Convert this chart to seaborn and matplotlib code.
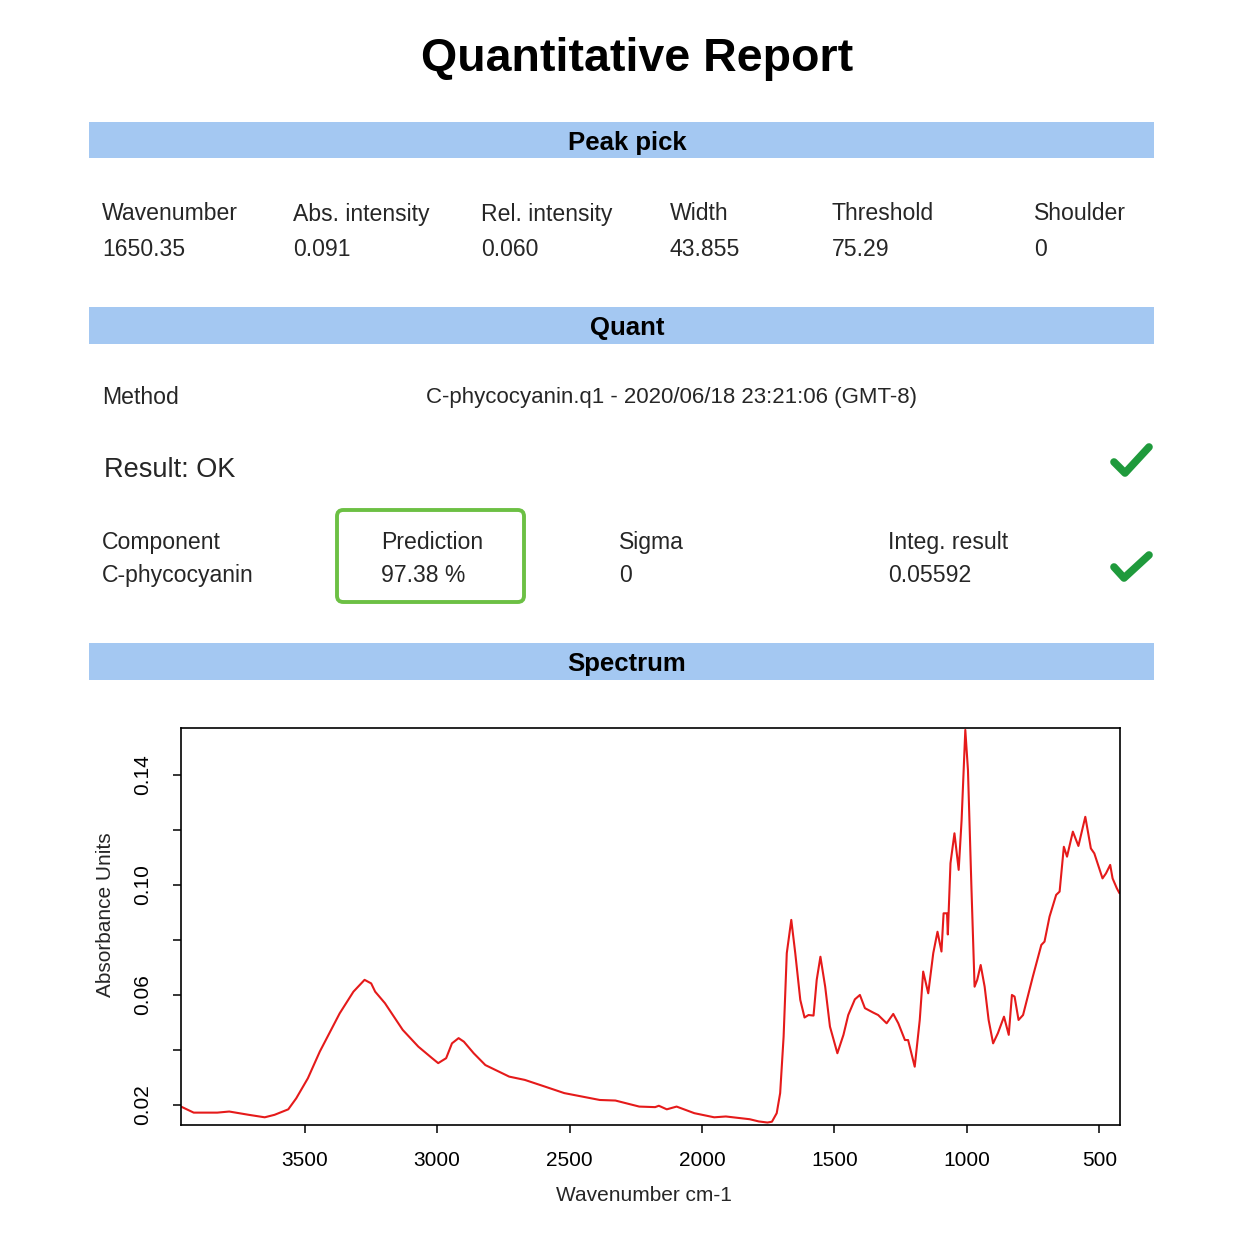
import matplotlib
matplotlib.use("Agg")
import matplotlib.pyplot as plt
from matplotlib.patches import Rectangle, FancyBboxPatch
from matplotlib.lines import Line2D
import seaborn as sns
import pandas as pd

# ---- report values ----
peak_labels = ["Wavenumber", "Abs. intensity", "Rel. intensity", "Width", "Threshold", "Shoulder"]
peak_values = ["1650.35", "0.091", "0.060", "43.855", "75.29", "0"]

method_name = "C-phycocyanin.q1 - 2020/06/18 23:21:06 (GMT-8)"
result_text = "Result: OK"

quant_labels = ["Component", "Prediction", "Sigma", "Integ. result"]
quant_values = ["C-phycocyanin", "97.38 %", "0", "0.05592"]

# ---- spectrum ----
wavenumber = [3967, 3919, 3830, 3785, 3711, 3651, 3614, 3562, 3532, 3488,
              3443, 3368, 3316, 3274, 3249, 3234, 3197, 3130, 3071, 3019,
              2996, 2966, 2944, 2919, 2899, 2862, 2818, 2728, 2669, 2594,
              2520, 2386, 2327, 2237, 2177, 2163, 2133, 2096, 2029, 1954,
              1910, 1820, 1786, 1753, 1736, 1718, 1705, 1692, 1680, 1663,
              1648, 1629, 1613, 1598, 1579, 1567, 1553, 1535, 1517, 1489,
              1466, 1448, 1423, 1404, 1385, 1354, 1335, 1303, 1278, 1259,
              1234, 1222, 1197, 1178, 1165, 1146, 1127, 1111, 1096, 1088,
              1075, 1072, 1062, 1047, 1031, 1020, 1006, 996, 983, 971,
              961, 948, 933, 918, 901, 883, 860, 842, 830, 820,
              805, 788, 751, 719, 707, 688, 663, 650, 634, 622,
              600, 579, 553, 532, 519, 488, 475, 459, 450, 434, 424]
absorbance = [0.0194, 0.0172, 0.0172, 0.0176, 0.0164, 0.0155, 0.0164, 0.0184, 0.0224, 0.0297,
              0.0394, 0.0533, 0.0612, 0.0655, 0.0642, 0.0612, 0.0570, 0.0473, 0.0412, 0.0370,
              0.0352, 0.0370, 0.0424, 0.0443, 0.0430, 0.0388, 0.0345, 0.0303, 0.0291, 0.0267,
              0.0243, 0.0218, 0.0216, 0.0194, 0.0192, 0.0197, 0.0184, 0.0194, 0.0170, 0.0155,
              0.0158, 0.0148, 0.0140, 0.0136, 0.0139, 0.0170, 0.0243, 0.0448, 0.0752, 0.0873,
              0.0752, 0.0582, 0.0518, 0.0527, 0.0525, 0.0655, 0.0739, 0.0630, 0.0485, 0.0388,
              0.0455, 0.0527, 0.0584, 0.0600, 0.0552, 0.0536, 0.0527, 0.0497, 0.0531, 0.0497,
              0.0436, 0.0436, 0.0339, 0.0509, 0.0685, 0.0606, 0.0752, 0.0830, 0.0758, 0.0897,
              0.0897, 0.0820, 0.1079, 0.1188, 0.1055, 0.1236, 0.1564, 0.1418, 0.0994, 0.0630,
              0.0655, 0.0709, 0.0630, 0.0509, 0.0424, 0.0461, 0.0521, 0.0455, 0.0600, 0.0594,
              0.0509, 0.0527, 0.0667, 0.0782, 0.0794, 0.0885, 0.0964, 0.0976, 0.1139, 0.1103,
              0.1194, 0.1142, 0.1248, 0.1133, 0.1115, 0.1024, 0.1042, 0.1073, 0.1024, 0.0988, 0.0970]

spec = pd.DataFrame({"wn": wavenumber, "au": absorbance})

sns.set_theme(style="ticks")
plt.rcParams["font.family"] = ["Liberation Sans", "DejaVu Sans"]

W = H = 1254
fig = plt.figure(figsize=(12.54, 12.54), dpi=100)
fig.patch.set_facecolor("white")


def fx(px):
    return px / W


def fy(py):
    return 1 - py / H


bar_color = "#a4c8f2"
body = 16.6


def header(top, bottom, label):
    fig.add_artist(Rectangle((fx(89), fy(bottom)), fx(1154) - fx(89), fy(top) - fy(bottom),
                             transform=fig.transFigure, facecolor=bar_color, edgecolor="none"))
    fig.text(fx(627), fy((top + bottom) / 2 + 3), label, ha="center", va="center",
             fontsize=18.5, fontweight="bold", color="black")


def check(pts):
    xs = [fx(p[0]) for p in pts]
    ys = [fy(p[1]) for p in pts]
    fig.add_artist(Line2D(xs, ys, transform=fig.transFigure, color="#1f9a3c", lw=5.5,
                          solid_capstyle="round", solid_joinstyle="round"))


fig.text(fx(637), fy(59), "Quantitative Report", ha="center", va="center",
         fontsize=33.5, fontweight="bold", color="black")

# Peak pick
header(122, 158, "Peak pick")
col_x = [102, 293, 481, 670, 832, 1034]
for x, lab, val in zip(col_x, peak_labels, peak_values):
    fig.text(fx(x), fy(214), lab, ha="left", va="center", fontsize=body)
    fig.text(fx(x), fy(250), val, ha="left", va="center", fontsize=body)

# Quant
header(307, 344, "Quant")
fig.text(fx(102), fy(398), "Method", ha="left", va="center", fontsize=body)
fig.text(fx(426), fy(398), method_name, ha="left", va="center", fontsize=16)
fig.text(fx(104), fy(470), result_text, ha="left", va="center", fontsize=19.5)
check([(1114, 462), (1125, 473), (1149, 447)])

q_x = [102, 381, 619, 888]
for x, lab, val in zip(q_x, quant_labels, quant_values):
    fig.text(fx(x), fy(542), lab, ha="left", va="center", fontsize=body)
    fig.text(fx(x), fy(576), val, ha="left", va="center", fontsize=body)
fig.add_artist(FancyBboxPatch((fx(337), fy(602)), fx(524) - fx(337), fy(510) - fy(602),
                              boxstyle="round,pad=0,rounding_size=0.005",
                              transform=fig.transFigure, facecolor="none",
                              edgecolor="#6cc044", lw=2.8))
check([(1114, 567), (1124, 578), (1149, 555)])

# Spectrum
header(643, 680, "Spectrum")
ax = fig.add_axes([fx(181), fy(1125), fx(1120) - fx(181), fy(728) - fy(1125)])
sns.lineplot(data=spec, x="wn", y="au", sort=False, color="#e51a1a", lw=1.5, ax=ax)
ax.set_xlim(3967, 422)
ax.set_ylim(0.0127, 0.1571)
ax.set_xticks([3500, 3000, 2500, 2000, 1500, 1000, 500])
ax.set_yticks([0.02, 0.04, 0.06, 0.08, 0.10, 0.12, 0.14])
ax.set_yticklabels(["0.02", "", "0.06", "", "0.10", "", "0.14"], rotation=90, va="center")
for s in ax.spines.values():
    s.set_visible(True)
    s.set_color("black")
    s.set_linewidth(1.2)
ax.tick_params(axis="both", direction="out", length=6, width=1.1, colors="black", labelsize=15)
ax.tick_params(axis="x", pad=13)
ax.tick_params(axis="y", pad=15)
ax.set_xlabel("Wavenumber cm-1", fontsize=15)
ax.set_ylabel("Absorbance Units", fontsize=15)
ax.xaxis.set_label_coords((644 - 181) / 939, -(1186 - 1125) / 397)
ax.yaxis.set_label_coords(-(181 - 115) / 939, (1125 - 915) / 397)
ax.set_facecolor("white")

fig.savefig("out.png", dpi=100, facecolor="white")
